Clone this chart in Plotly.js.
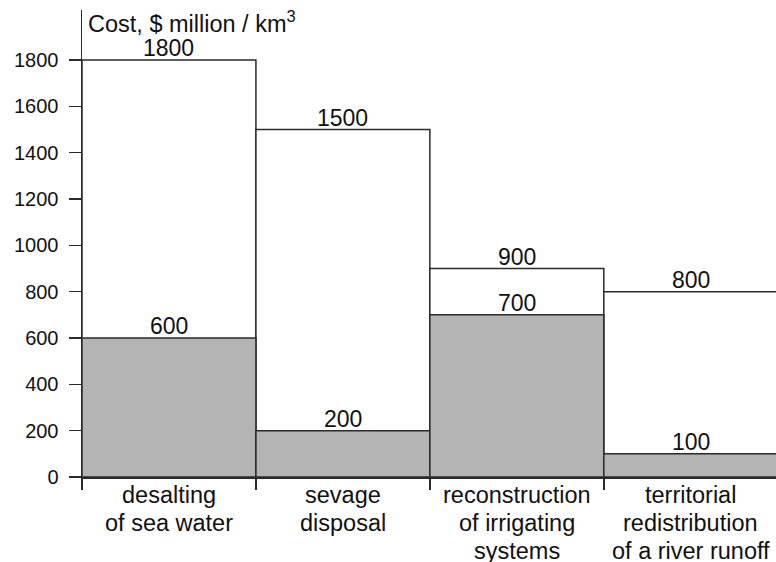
<!DOCTYPE html>
<html>
<head>
<meta charset="utf-8">
<script src="https://cdn.plot.ly/plotly-3.0.1.min.js"></script>
<style>
  html, body { margin: 0; padding: 0; background: #fff; }
  #chart { width: 776px; height: 562px; }
</style>
</head>
<body>
<div id="chart"></div>
<script>
// Cost of obtaining one km3 of fresh water, by method
const categories = [
  "desalting<br>of sea water",
  "sevage<br>disposal",
  "reconstruction<br>of irrigating<br>systems",
  "territorial<br>redistribution<br>of a river runoff"
];
const costMax = [1800, 1500, 900, 800];
const costMin = [600, 200, 700, 100];
const yTicks = [0, 200, 400, 600, 800, 1000, 1200, 1400, 1600, 1800];

const pos = categories.map((_, i) => i);
const edgeColor = "#2a2a2a";
const fontFamily = "Liberation Sans, Arial, Helvetica, sans-serif";

const traces = [
  {
    type: "bar", x: pos, y: costMax, width: 1,
    marker: { color: "#ffffff", line: { color: edgeColor, width: 1.5 } },
    hoverinfo: "y"
  },
  {
    type: "bar", x: pos, y: costMin, width: 1,
    marker: { color: "#b4b4b4", line: { color: edgeColor, width: 1.5 } },
    hoverinfo: "y"
  }
];

const annotations = [];
// value labels sitting on top of each bar
[costMax, costMin].forEach(series => {
  series.forEach((v, i) => {
    annotations.push({
      x: i, y: v, xref: "x", yref: "y",
      text: String(v), showarrow: false,
      xanchor: "center", yanchor: "bottom", yshift: -3,
      font: { family: fontFamily, size: 23, color: "#111" }
    });
  });
});
// category names under the axis, one annotation per line for tight spacing
const lineStep = 28;
categories.forEach((c, i) => {
  c.split("<br>").forEach((line, k) => {
    annotations.push({
      x: i, y: 0, xref: "x", yref: "y",
      text: line, showarrow: false,
      xanchor: "center", yanchor: "top", yshift: -(2.5 + k * lineStep),
      font: { family: fontFamily, size: 23.5, color: "#111" }
    });
  });
});
// axis caption in the top-left corner of the plot
annotations.push({
  x: 0, y: 1, xref: "paper", yref: "paper",
  xanchor: "left", yanchor: "top", xshift: 4, yshift: 5,
  text: "Cost, $ million / km<sup>3</sup>", showarrow: false,
  font: { family: fontFamily, size: 23.5, color: "#111" }
});

const layout = {
  width: 776, height: 562,
  margin: { l: 82, r: 0, t: 10, b: 85 },
  paper_bgcolor: "#fff", plot_bgcolor: "#fff",
  barmode: "overlay", showlegend: false,
  font: { family: fontFamily, color: "#111" },
  xaxis: {
    range: [-0.5, 3.49], tickvals: [-0.5, 0.5, 1.5, 2.5],
    showticklabels: false, ticks: "outside", ticklen: 11, tickwidth: 1.5,
    tickcolor: edgeColor, showline: true, linecolor: edgeColor, linewidth: 1.5,
    showgrid: false, zeroline: false, fixedrange: true
  },
  yaxis: {
    range: [0, 2016], tickvals: yTicks,
    ticks: "outside", ticklen: 12, tickwidth: 1.5, tickcolor: edgeColor,
    ticklabelstandoff: 6,
    tickfont: { family: fontFamily, size: 20, color: "#111" },
    showline: true, linecolor: edgeColor, linewidth: 1.5,
    showgrid: false, zeroline: false, fixedrange: true
  },
  annotations: annotations
};

Plotly.newPlot("chart", traces, layout, { displayModeBar: false, staticPlot: true });
</script>
</body>
</html>
